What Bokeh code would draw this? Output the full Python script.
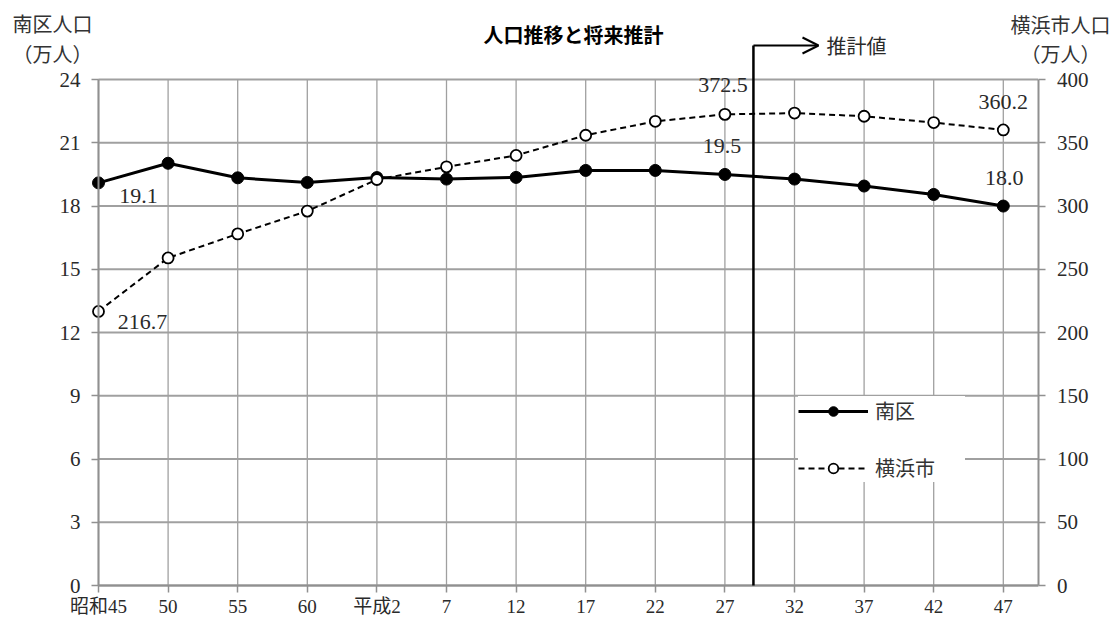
from bokeh.plotting import figure
from bokeh.models import (Range1d, LinearAxis, FixedTicker, Label, Arrow, OpenHead,
                          Legend, LegendItem, ColumnDataSource)
from bokeh.embed import file_html
from bokeh.resources import INLINE

categories = ["昭和45", "50", "55", "60", "平成2", "7", "12", "17", "22", "27", "32", "37", "42", "47"]
minami = [19.1, 20.03, 19.34, 19.12, 19.35, 19.28, 19.36, 19.69, 19.69, 19.5, 19.28, 18.95, 18.55, 18.0]
yokohama = [216.7, 259.0, 278.0, 296.0, 321.0, 331.0, 340.0, 356.0, 367.0, 372.5, 373.5, 371.0, 366.0, 360.2]
left_ticks = [0, 3, 6, 9, 12, 15, 18, 21, 24]
right_ticks = [0, 50, 100, 150, 200, 250, 300, 350, 400]
LEFT_MAX, RIGHT_MAX = 24, 400
X_END = len(categories) - 0.5      # right axis half a step after the last category
forecast_x = 9.41                  # boundary between 27 and 32

# ---- layout (pixels) ----
W, H = 1111, 620
X0_PX, DX = 98, 69.6     # page x of first category, px per category
Y0_PX, DY = 585, 21.08   # page y of value 0, px per left unit
RATIO = RIGHT_MAX / LEFT_MAX

def xd(px):
    return (px - X0_PX) / DX

def yd(py):
    return (Y0_PX - py) / DY

SERIF = "Liberation Serif, Noto Sans CJK JP"
JP = "Noto Sans CJK JP"
GRID = "#a0a0a0"
AXIS = "#909090"
TXT = "#2a2a2a"

xs = list(range(len(categories)))
src = ColumnDataSource(dict(x=xs, m=minami, y=yokohama))

p = figure(width=W, height=H, frame_width=W, frame_height=H,
           output_backend="svg", toolbar_location=None,
           x_range=Range1d(xd(0), xd(W)), y_range=Range1d(yd(H), yd(0)),
           min_border_left=0, min_border_right=0, min_border_top=0, min_border_bottom=0)
p.outline_line_color = None
p.xaxis.visible = False
p.yaxis.visible = False
p.xgrid.visible = False
p.ygrid.visible = False
p.extra_y_ranges = {"yk": Range1d(yd(H) * RATIO, yd(0) * RATIO)}

def style_axis(ax, standoff, size="21px"):
    ax.axis_line_color = AXIS
    ax.axis_line_width = 2
    ax.major_tick_line_color = AXIS
    ax.major_tick_line_width = 1.5
    ax.major_tick_out = 7
    ax.major_tick_in = 0
    ax.minor_tick_line_color = None
    ax.major_label_text_font = SERIF
    ax.major_label_text_font_size = size
    ax.major_label_text_color = TXT
    ax.major_label_standoff = standoff

lax = LinearAxis(ticker=FixedTicker(ticks=left_ticks), fixed_location=0, bounds=(0, LEFT_MAX))
style_axis(lax, 11)
p.add_layout(lax, "left")

bax = LinearAxis(ticker=FixedTicker(ticks=xs), fixed_location=0, bounds=(0, X_END))
bax.major_label_overrides = {i: c for i, c in enumerate(categories)}
style_axis(bax, 3, "19px")
p.add_layout(bax, "below")

rax = LinearAxis(y_range_name="yk", ticker=FixedTicker(ticks=right_ticks), fixed_location=X_END,
                 bounds=(0, RIGHT_MAX))
style_axis(rax, 12)
p.add_layout(rax, "right")

# grid lines (drawn from the tick arrays, bounded to the plot area)
p.segment(x0=0, x1=X_END, y0=left_ticks, y1=left_ticks, line_color=GRID, line_width=2)
p.segment(x0=xs, x1=xs, y0=0, y1=LEFT_MAX, line_color=GRID, line_width=1.3)

# series
l1 = p.line("x", "m", source=src, line_color="black", line_width=3)
s1 = p.scatter("x", "m", source=src, size=12, fill_color="black", line_color="black")
l2 = p.line("x", "y", source=src, y_range_name="yk", line_color="black", line_width=2,
            line_dash="6 4")
s2 = p.scatter("x", "y", source=src, y_range_name="yk", size=11, fill_color="white",
               line_color="black", line_width=1.8)

# forecast marker
arrow_y = yd(45)
p.add_layout(Arrow(end=None, x_start=forecast_x, y_start=0, x_end=forecast_x, y_end=arrow_y,
                   line_color="black", line_width=2.5))
p.add_layout(Arrow(end=OpenHead(size=16, line_width=2), x_start=forecast_x, y_start=arrow_y,
                   x_end=xd(818), y_end=arrow_y, line_color="black", line_width=2))
p.add_layout(Label(x=xd(826), y=arrow_y, text="推計値", text_font=JP,
                   text_font_size="20px", text_baseline="middle", text_color=TXT))

# value labels (offsets in pixels from the point)
def vlabel(i, vals, dxp, dyp, rng=None):
    v = vals[i]
    per = DY / RATIO if rng else DY
    kw = dict(x=i + dxp / DX, y=v + dyp / per, text=f"{v:.1f}", text_font=SERIF,
              text_font_size="22px", text_color=TXT, text_align="center",
              text_baseline="middle")
    if rng:
        kw["y_range_name"] = rng
    p.add_layout(Label(**kw))

vlabel(0, minami, 40, -13)
vlabel(0, yokohama, 44, -11, "yk")
vlabel(9, yokohama, -2, 29, "yk")
vlabel(9, minami, -3, 28)
vlabel(13, yokohama, 0, 28, "yk")
vlabel(13, minami, 1, 28)

# title and axis titles
p.add_layout(Label(x=xd(573), y=yd(34), text="人口推移と将来推計", text_font=JP,
                   text_font_style="bold", text_font_size="20px", text_align="center",
                   text_baseline="middle", text_color="black"))
for (x, y, t, al) in [(52, 23, "南区人口", "center"), (52, 53, "（万人）", "center"),
                      (1110, 24, "横浜市人口", "right"), (1100, 53, "（万人）", "right")]:
    p.add_layout(Label(x=xd(x), y=yd(y), text=t, text_font=JP, text_font_size="20px",
                       text_align=al, text_baseline="middle", text_color="#333333"))

legend = Legend(items=[LegendItem(label="南区", renderers=[l1, s1]),
                       LegendItem(label="横浜市", renderers=[l2, s2])],
                location=(798, H - 482), glyph_width=70, glyph_height=24, label_height=24,
                label_width=90, spacing=28, padding=10, label_text_font=JP,
                label_text_font_size="20px", label_text_color="#333333",
                border_line_color=None, background_fill_color="white",
                background_fill_alpha=1.0, margin=0, label_standoff=7)
p.add_layout(legend)

open("out.html", "w").write(file_html(p, INLINE))
